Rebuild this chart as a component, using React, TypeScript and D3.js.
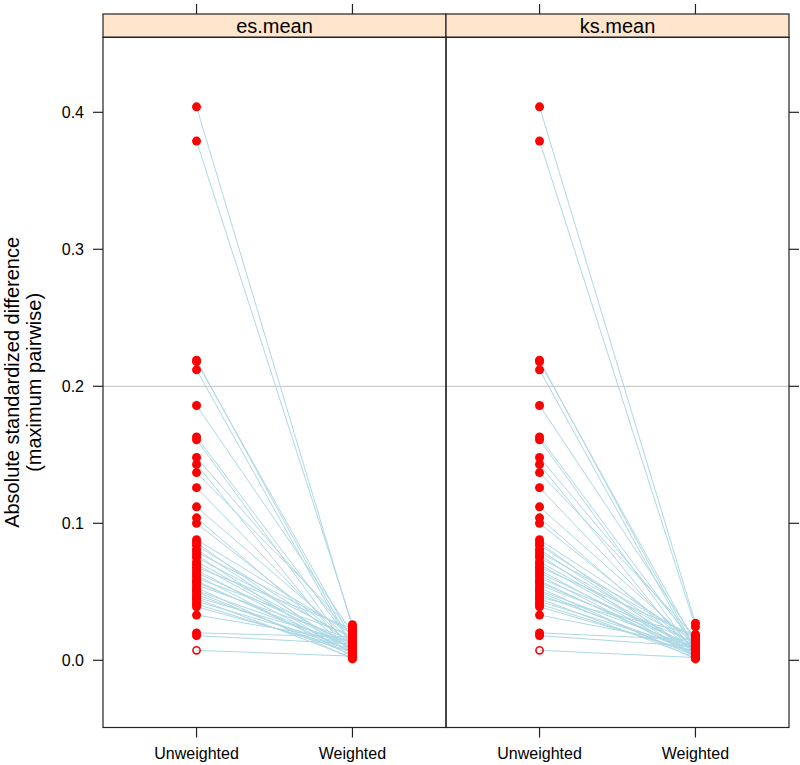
import React from "react";
import * as d3 from "d3";

const panels = ["es.mean", "ks.mean"];
const categories = ["Unweighted", "Weighted"];
const yTicks = [0.0, 0.1, 0.2, 0.3, 0.4];

const unweighted = [
  0.404, 0.379, 0.219, 0.218, 0.212, 0.186, 0.163, 0.161, 0.148, 0.143, 0.137,
  0.126, 0.112, 0.104, 0.1, 0.088, 0.086, 0.084, 0.081, 0.079, 0.077, 0.075,
  0.072, 0.07, 0.068, 0.066, 0.064, 0.062, 0.06, 0.058, 0.057, 0.055, 0.053,
  0.051, 0.05, 0.048, 0.046, 0.045, 0.043, 0.041, 0.039, 0.033, 0.02, 0.018,
  0.0073,
];
const hollowUnweighted = [false, false, false, false, false, false, false, false, false, false, false,
  false, false, false, false, false, false, false, false, false, false, false,
  false, false, false, false, false, false, false, false, false, false, false,
  false, false, false, false, false, false, false, false, false, false, false,
  true];

const weightedEs = [
  0.024, 0.026, 0.01, 0.015, 0.008, 0.02, 0.012, 0.005, 0.017, 0.003, 0.022,
  0.009, 0.014, 0.006, 0.011, 0.019, 0.004, 0.013, 0.007, 0.021, 0.002, 0.016,
  0.01, 0.008, 0.023, 0.005, 0.012, 0.003, 0.018, 0.006, 0.009, 0.015, 0.001,
  0.011, 0.004, 0.007, 0.013, 0.002, 0.01, 0.006, 0.008, 0.014, 0.017, 0.012,
  0.003,
];
const weightedKs = [
  0.027, 0.0245, 0.008, 0.012, 0.006, 0.015, 0.01, 0.004, 0.013, 0.002, 0.017,
  0.007, 0.011, 0.005, 0.009, 0.014, 0.003, 0.01, 0.006, 0.016, 0.002, 0.012,
  0.008, 0.007, 0.018, 0.004, 0.009, 0.003, 0.013, 0.005, 0.007, 0.011, 0.001,
  0.009, 0.003, 0.006, 0.019, 0.002, 0.008, 0.005, 0.006, 0.011, 0.015, 0.01,
  0.002,
];
const refLine = 0.2;

const FONT = "'Liberation Sans', Arial, Helvetica, sans-serif";
const LEFT = 103;
const MID = 446;
const RIGHT = 789;
const STRIP_TOP = 14;
const PANEL_TOP = 37.3;
const PANEL_BOTTOM = 727.5;

export default function App() {
  const y = d3.scaleLinear().domain([0, 0.4]).range([660.3, 112.3]);
  const panelBounds = [
    [LEFT, MID],
    [MID, RIGHT],
  ];
  const weightedSets = [weightedEs, weightedKs];

  return (
    <svg
      width={800}
      height={765}
      style={{ position: "absolute", left: 0, top: 0, background: "#fff" }}
      fontFamily={FONT}
    >
      {/* reference line */}
      <line
        x1={LEFT}
        x2={RIGHT}
        y1={y(refLine)}
        y2={y(refLine)}
        stroke="#bebebe"
        strokeWidth={1}
      />
      {panels.map((p, pi) => {
        const [x0, x1] = panelBounds[pi];
        const x = d3.scaleLinear().domain([0.4, 2.6]).range([x0, x1]);
        const w = weightedSets[pi];
        const lineGen = d3
          .line<[number, number]>()
          .x((d) => x(d[0]))
          .y((d) => y(d[1]));
        return (
          <g key={p}>
            {unweighted.map((u, i) => (
              <path
                key={"l" + i}
                d={lineGen([
                  [1, u],
                  [2, w[i]],
                ]) || ""}
                stroke="#add8e6"
                strokeWidth={1}
                fill="none"
              />
            ))}
            {w.map((v, i) => (
              <circle key={"w" + i} cx={x(2)} cy={y(v)} r={4.5} fill="#ff0000" />
            ))}
            {unweighted.map((u, i) =>
              hollowUnweighted[i] ? (
                <circle
                  key={"u" + i}
                  cx={x(1)}
                  cy={y(u)}
                  r={3.6}
                  fill="none"
                  stroke="#ff0000"
                  strokeWidth={1.6}
                />
              ) : (
                <circle key={"u" + i} cx={x(1)} cy={y(u)} r={4.5} fill="#ff0000" />
              )
            )}
            {/* strip */}
            <rect
              x={x0}
              y={STRIP_TOP}
              width={x1 - x0}
              height={PANEL_TOP - STRIP_TOP}
              fill="#ffe5cc"
              stroke="#222"
              strokeWidth={1.2}
            />
            <text
              x={(x0 + x1) / 2}
              y={(STRIP_TOP + PANEL_TOP) / 2 + 7}
              textAnchor="middle"
              fontSize={20}
              fill="#000"
            >
              {p}
            </text>
            {/* panel border */}
            <rect
              x={x0}
              y={PANEL_TOP}
              width={x1 - x0}
              height={PANEL_BOTTOM - PANEL_TOP}
              fill="none"
              stroke="#222"
              strokeWidth={1.2}
            />
            {/* x ticks */}
            {categories.map((c, ci) => (
              <g key={c}>
                <line
                  x1={x(ci + 1)}
                  x2={x(ci + 1)}
                  y1={STRIP_TOP}
                  y2={STRIP_TOP - 10}
                  stroke="#222"
                  strokeWidth={1.2}
                />
                <line
                  x1={x(ci + 1)}
                  x2={x(ci + 1)}
                  y1={PANEL_BOTTOM}
                  y2={PANEL_BOTTOM + 10}
                  stroke="#222"
                  strokeWidth={1.2}
                />
                <text
                  x={x(ci + 1)}
                  y={759}
                  textAnchor="middle"
                  fontSize={16}
                  fill="#000"
                >
                  {c}
                </text>
              </g>
            ))}
          </g>
        );
      })}
      {/* y ticks */}
      {yTicks.map((t) => (
        <g key={t}>
          <line x1={LEFT - 10} x2={LEFT} y1={y(t)} y2={y(t)} stroke="#222" strokeWidth={1.2} />
          <line x1={RIGHT} x2={RIGHT + 10} y1={y(t)} y2={y(t)} stroke="#222" strokeWidth={1.2} />
          <text
            x={84}
            y={y(t) + 6}
            textAnchor="end"
            fontSize={16}
            fill="#000"
          >
            {d3.format(".1f")(t)}
          </text>
        </g>
      ))}
      {/* y label */}
      <g transform={`translate(0, ${(PANEL_TOP + PANEL_BOTTOM) / 2}) rotate(-90)`}>
        <text x={0} y={19} textAnchor="middle" fontSize={20} fill="#000">
          Absolute standardized difference
        </text>
        <text x={0} y={41} textAnchor="middle" fontSize={20} fill="#000">
          (maximum pairwise)
        </text>
      </g>
    </svg>
  );
}
